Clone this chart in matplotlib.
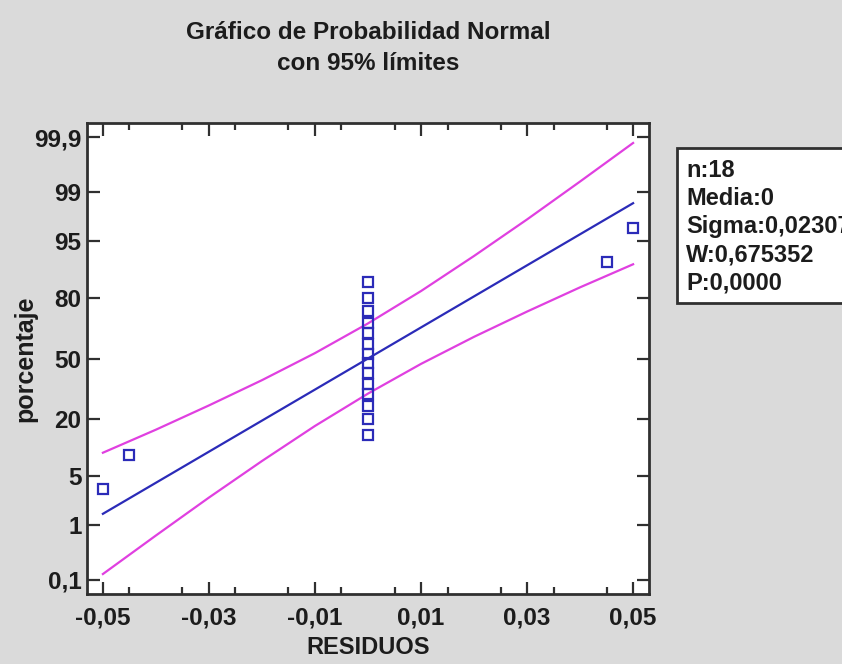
import math
import numpy as np
import matplotlib
matplotlib.use("Agg")
import matplotlib.pyplot as plt
from matplotlib.patches import Rectangle
from matplotlib import font_manager

# ---------------- data ----------------
residuos = [-0.050, -0.045, 0, 0, 0, 0, 0, 0, 0, 0, 0, 0, 0, 0, 0, 0, 0.045, 0.050]
porcentaje = [3.4, 8.9, 14.4, 19.9, 25.3, 30.8, 36.3, 41.8, 47.3,
              52.7, 58.2, 63.7, 69.2, 74.7, 80.1, 85.6, 91.1, 96.6]

fit_x = [-0.05, 0.05]
fit_pct = [1.5, 98.5]

band_x = [-0.05, -0.04, -0.03, -0.02, -0.01, 0.0, 0.01, 0.02, 0.03, 0.04, 0.05]
band_upper = [9.4, 16.0, 25.6, 38.1, 53.0, 68.8, 82.7, 92.4, 97.4, 99.33, 99.87]
band_lower = [0.13, 0.67, 2.6, 7.6, 17.3, 31.2, 47.0, 61.9, 74.4, 84.0, 90.6]

y_ticks = [0.1, 1, 5, 20, 50, 80, 95, 99, 99.9]
y_ticklabels = ["0,1", "1", "5", "20", "50", "80", "95", "99", "99,9"]
x_ticks = [-0.05, -0.03, -0.01, 0.01, 0.03, 0.05]
x_ticklabels = ["-0,05", "-0,03", "-0,01", "0,01", "0,03", "0,05"]

title_text = "Gráfico de Probabilidad Normal\ncon 95% límites"
stats_lines = ["n:18", "Media:0", "Sigma:0,02307", "W:0,675352", "P:0,0000"]

# ---------------- normal probability scale ----------------
_a = [-3.969683028665376e+01, 2.209460984245205e+02, -2.759285104469687e+02,
      1.383577518672690e+02, -3.066479806614716e+01, 2.506628277459239e+00]
_b = [-5.447609879822406e+01, 1.615858368580409e+02, -1.556989798598866e+02,
      6.680131188771972e+01, -1.328068155288572e+01]
_c = [-7.784894002430293e-03, -3.223964580411365e-01, -2.400758277161838e+00,
      -2.549671010466100e+00, 4.374664141464968e+00, 2.938163982698783e+00]
_d = [7.784695709041462e-03, 3.224671290700398e-01, 2.445134137142996e+00,
      3.754408661907416e+00]


def _ppf_scalar(p):
    p = min(max(p, 1e-12), 1 - 1e-12)
    plow = 0.02425
    if p < plow:
        q = math.sqrt(-2 * math.log(p))
        return (((((_c[0]*q+_c[1])*q+_c[2])*q+_c[3])*q+_c[4])*q+_c[5]) / \
               ((((_d[0]*q+_d[1])*q+_d[2])*q+_d[3])*q+1)
    if p > 1 - plow:
        q = math.sqrt(-2 * math.log(1 - p))
        return -(((((_c[0]*q+_c[1])*q+_c[2])*q+_c[3])*q+_c[4])*q+_c[5]) / \
                ((((_d[0]*q+_d[1])*q+_d[2])*q+_d[3])*q+1)
    q = p - 0.5
    r = q * q
    return (((((_a[0]*r+_a[1])*r+_a[2])*r+_a[3])*r+_a[4])*r+_a[5])*q / \
           (((((_b[0]*r+_b[1])*r+_b[2])*r+_b[3])*r+_b[4])*r+1)


def pct_to_z(v):
    v = np.asarray(v, dtype=float)
    out = np.array([_ppf_scalar(x / 100.0) for x in v.ravel()])
    return out.reshape(v.shape)


def z_to_pct(z):
    z = np.asarray(z, dtype=float)
    out = np.array([50.0 * (1 + math.erf(x / math.sqrt(2))) for x in z.ravel()])
    return out.reshape(z.shape)


# ---------------- fonts ----------------
avail = {f.name for f in font_manager.fontManager.ttflist}
fam = ["Liberation Sans Narrow", "Liberation Sans", "DejaVu Sans"]
fam = [f for f in fam if f in avail] or ["DejaVu Sans"]
plt.rcParams["font.family"] = fam
plt.rcParams["font.weight"] = "bold"

BG = "#dadada"
FRAME = "#303030"
TXT = "#1c1c1c"
BLUE = "#2b2bb8"
PINK = "#e040e0"

fig = plt.figure(figsize=(8.42, 6.64), dpi=100, facecolor=BG)
ax = fig.add_axes([87/842, 1 - 594/664, (649-87)/842, (594-123)/664])
ax.set_facecolor("white")
ax.set_yscale("function", functions=(pct_to_z, z_to_pct))

ax.plot(band_x, band_upper, color=PINK, lw=1.6, zorder=2)
ax.plot(band_x, band_lower, color=PINK, lw=1.6, zorder=2)
ax.plot(fit_x, fit_pct, color=BLUE, lw=1.6, zorder=3)
ax.plot(residuos, porcentaje, linestyle="none", marker="s", markersize=6.5,
        markerfacecolor="none", markeredgecolor=BLUE, markeredgewidth=1.6, zorder=4)

ax.set_xlim(-0.053, 0.053)
ax.set_ylim(0.05, 99.95)

ax.set_yticks(y_ticks)
ax.set_yticklabels(y_ticklabels)
ax.yaxis.set_minor_locator(matplotlib.ticker.NullLocator())
ax.set_xticks(x_ticks)
ax.set_xticklabels(x_ticklabels)
ax.set_xticks(np.arange(-0.045, 0.05, 0.01), minor=True)

for s in ax.spines.values():
    s.set_color(FRAME)
    s.set_linewidth(2)

ax.tick_params(axis="both", which="both", direction="in", top=True, right=True,
               color=FRAME, width=1.6)
ax.tick_params(axis="both", which="major", length=9, labelsize=17.5,
               labelcolor=TXT)
ax.tick_params(axis="x", which="major", pad=9)
ax.tick_params(axis="y", which="major", pad=4)
ax.tick_params(axis="both", which="minor", length=5)

ax.set_xlabel("RESIDUOS", fontsize=17, fontweight="bold", color=TXT)
ax.set_ylabel("porcentaje", fontsize=18, fontweight="bold", color=TXT)
ax.xaxis.set_label_coords(0.5, (594 - 648) / 471)
ax.xaxis.label.set_va("center")
ax.yaxis.set_label_coords((25 - 87) / 562, 0.5)
ax.yaxis.label.set_va("center")

fig.text(368/842, 1 - 48/664, title_text, ha="center", va="center",
         fontsize=17.5, fontweight="bold", color=TXT, linespacing=1.48)

# statistics box (clipped at the right edge as in the original)
fig.patches.append(Rectangle((677/842, 1 - 303/664), 0.3, (303-148)/664,
                             transform=fig.transFigure, facecolor="white",
                             edgecolor=FRAME, linewidth=2, zorder=1))
for i, line in enumerate(stats_lines):
    fig.text(686/842, 1 - (170 + 28.2*i)/664, line, ha="left", va="center",
             fontsize=17, fontweight="bold", color=TXT, zorder=2)

fig.savefig("out.png", dpi=100, facecolor=BG)
